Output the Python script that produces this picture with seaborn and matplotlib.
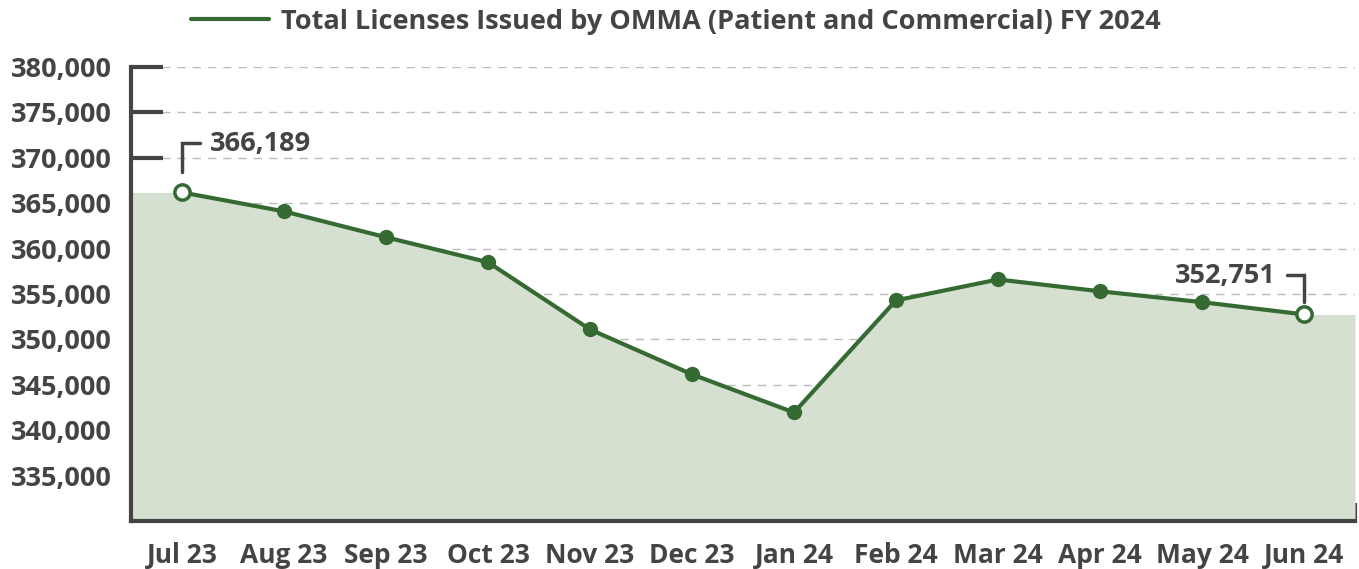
import matplotlib
matplotlib.use('Agg')
import matplotlib.pyplot as plt
import numpy as np
import pandas as pd
import seaborn as sns

months = ['Jul 23', 'Aug 23', 'Sep 23', 'Oct 23', 'Nov 23', 'Dec 23',
          'Jan 24', 'Feb 24', 'Mar 24', 'Apr 24', 'May 24', 'Jun 24']
licenses = [366189, 364100, 361250, 358500, 351100, 346150,
            341950, 354300, 356600, 355300, 354100, 352751]
y_ticks = [335000, 340000, 345000, 350000, 355000, 360000,
           365000, 370000, 375000, 380000]
series_label = 'Total Licenses Issued by OMMA (Patient and Commercial) FY 2024'

GREEN = '#356b32'
FILL = '#d6e0d1'
DARK = '#444444'

sns.set_theme(style='white')
plt.rcParams['font.family'] = ['Open Sans', 'DejaVu Sans']
plt.rcParams['font.weight'] = 'bold'

df = pd.DataFrame({'month': months, 'value': licenses})
df['pos'] = np.arange(len(df))

fig = plt.figure(figsize=(13.59, 5.69), dpi=100)
ax = fig.add_axes([131 / 1359, 48 / 569, 1224 / 1359, 454 / 569])

# shaded area, held flat past the first and last month
fx = np.concatenate([[-0.5], df['pos'], [len(df) - 0.5]])
fy = np.concatenate([[licenses[0]], df['value'], [licenses[-1]]])
ax.fill_between(fx, 330000, fy, color=FILL, lw=0, zorder=1)

sns.lineplot(data=df, x='pos', y='value', color=GREEN, lw=3, ax=ax,
             label=series_label, zorder=3)
mid = df.iloc[1:-1]
ends = df.iloc[[0, -1]]
ax.plot(mid['pos'], mid['value'], 'o', color=GREEN, ms=10, zorder=4)
ax.plot(ends['pos'], ends['value'], 'o', mfc='white', mec=GREEN, mew=2.5,
        ms=11, zorder=4)

ax.set_xlim(-0.5, len(df) - 0.5)
ax.set_ylim(330000, 380000)
ax.set_yticks(y_ticks)
ax.set_yticklabels([f'{v:,}' for v in y_ticks])
ax.set_xticks(df['pos'])
ax.set_xticklabels(months)
ax.set_xticks(np.arange(len(df)) + 0.5, minor=True)
ax.set_xlabel('')
ax.set_ylabel('')

ax.tick_params(axis='y', which='major', left=True, direction='in',
               length=23, width=3, color=DARK, labelsize=19.5,
               labelcolor=DARK, pad=14)
ax.tick_params(axis='x', which='major', bottom=True, length=0,
               labelsize=19, labelcolor=DARK, pad=15)
ax.tick_params(axis='x', which='minor', bottom=True, direction='in',
               length=13, width=3, color=DARK)
for t in ax.get_xticklabels() + ax.get_yticklabels():
    t.set_fontweight('bold')

ax.grid(axis='y', ls=(0, (6, 5)), color='#bbbbbb', lw=1, zorder=0)
ax.set_axisbelow(True)
for s in ['top', 'right']:
    ax.spines[s].set_visible(False)
for s in ['left', 'bottom']:
    ax.spines[s].set_color(DARK)
    ax.spines[s].set_linewidth(3)
    ax.spines[s].set_zorder(5)

# end labels with small brackets
v0, v1 = licenses[0], licenses[-1]
ax.plot([0, 0, 0.18], [368400, 371600, 371600], color=DARK, lw=2.5,
        solid_joinstyle='miter', zorder=4)
ax.text(0.27, 371500, f'{v0:,}', fontsize=19.5, fontweight='bold',
        color=DARK, va='center', ha='left')
ax.plot([10.83, 11, 11], [357050, 357050, 354100], color=DARK,
        lw=2.5, solid_joinstyle='miter', zorder=4)
ax.text(10.72, 357000, f'{v1:,}', fontsize=19.5, fontweight='bold',
        color=DARK, va='center', ha='right')

leg = ax.legend(loc='center', bbox_to_anchor=(0.445, 1.10),
                frameon=False, fontsize=19.5, handlelength=2.9,
                handletextpad=0.45)
for t in leg.get_texts():
    t.set_color(DARK)
    t.set_fontweight('bold')

fig.savefig('out.png', dpi=100)
